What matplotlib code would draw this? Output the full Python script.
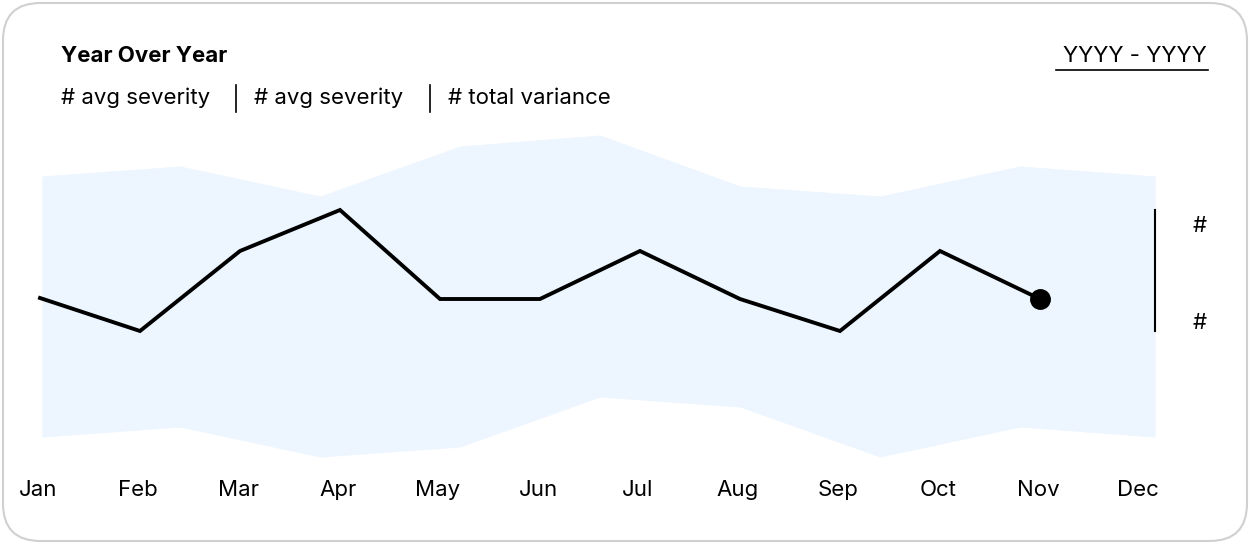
import numpy as np
import matplotlib.pyplot as plt
from matplotlib.patches import FancyBboxPatch

plt.rcParams['font.family'] = ['Inter', 'DejaVu Sans']

months = ['Jan', 'Feb', 'Mar', 'Apr', 'May', 'Jun', 'Jul', 'Aug', 'Sep', 'Oct', 'Nov', 'Dec']
severity = [20.2, 16.9, 24.9, 29.0, 20.1, 20.1, 24.9, 20.1, 16.9, 24.9, 20.1]  # Jan..Nov

# variance band
band_x = [0.02, 1.4, 2.8, 4.2, 5.6, 7.0, 8.4, 9.8, 11.15]
band_hi = [32.4, 33.4, 30.4, 35.4, 36.5, 31.4, 30.4, 33.4, 32.4]
band_lo = [6.3, 7.3, 4.3, 5.3, 10.3, 9.3, 4.3, 7.3, 6.3]

fig = plt.figure(figsize=(12.5, 5.44), dpi=100)
card = FancyBboxPatch((3/1250, 3/544), 1244/1250, 538/544, boxstyle='round,pad=0,rounding_size=0.03',
                      transform=fig.transFigure, facecolor='white', edgecolor='#d0d0d0', linewidth=1.5,
                      mutation_aspect=1250/544, zorder=-5)
fig.patches.append(card)

ax = fig.add_axes([0, 0, 1, 1])
ax.patch.set_alpha(0)
ax.set_xlim(-0.4, 12.1)
ax.set_ylim(-4.4, 50)
ax.axis('off')

ax.fill_between(band_x, band_lo, band_hi, color='#edf5fe', linewidth=0)
x = np.arange(len(severity))
ax.plot(x, severity, color='black', linewidth=2.8, solid_joinstyle='miter')
ax.plot(x[-1], severity[-1], 'o', color='black', markersize=14)

for i, m in enumerate(months):
    ax.text(i - 0.02, 1.0, m, ha='center', va='center', fontsize=16)

# scale marker
ax.plot([11.15, 11.15], [16.9, 29.0], color='black', linewidth=1.5)
ax.text(11.6, 27.4, '#', ha='center', va='center', fontsize=16)
ax.text(11.6, 17.7, '#', ha='center', va='center', fontsize=16)

fig.text(61/1250, 1 - 56/544, 'Year Over Year', fontsize=16, fontweight='bold', va='center')
for px, s in [(61, '# avg severity'), (254, '# avg severity'), (448, '# total variance')]:
    fig.text(px/1250, 1 - 98/544, s, fontsize=16, va='center')
for px in [236, 430]:
    fig.add_artist(plt.Line2D([px/1250, px/1250], [1 - 85/544, 1 - 112/544], color='black', linewidth=1.2))
fig.text(1207/1250, 1 - 56/544, 'YYYY - YYYY', fontsize=16, va='center', ha='right')
fig.add_artist(plt.Line2D([1056/1250, 1208/1250], [1 - 70/544, 1 - 70/544], color='black', linewidth=1.2))

plt.savefig('out.png', dpi=100)
